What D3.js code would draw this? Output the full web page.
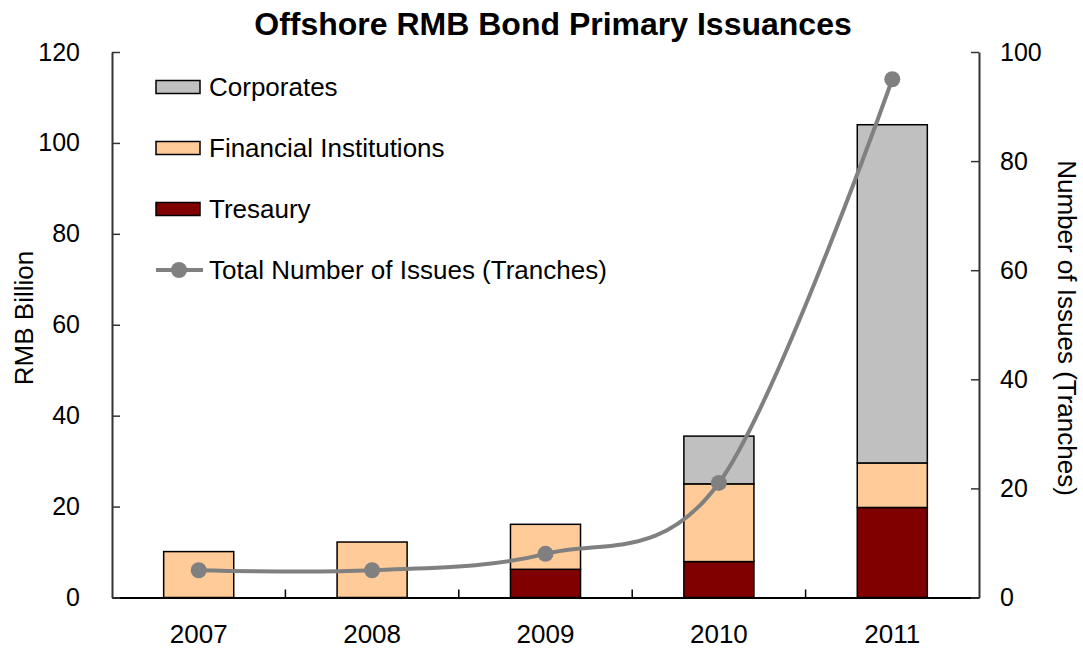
<!DOCTYPE html>
<html>
<head>
<meta charset="utf-8">
<script src="https://cdn.jsdelivr.net/npm/d3@7"></script>
<style>
  body { margin: 0; background: #fff; }
  text { font-family: "Liberation Sans", Arial, sans-serif; fill: #000; }
</style>
</head>
<body>
<div id="chart"></div>
<script>
// chart data
var years = ["2007", "2008", "2009", "2010", "2011"];
var treasury = [0, 0, 6.2, 7.9, 19.8];
var financial = [10.1, 12.2, 9.9, 17.1, 9.8];
var corporates = [0, 0, 0, 10.5, 74.4];
var issues = [5, 5, 8, 21, 95];

var leftTicks = [0, 20, 40, 60, 80, 100, 120];
var rightTicks = [0, 20, 40, 60, 80, 100];

var seriesNames = ["Tresaury", "Financial Institutions", "Corporates"];
var colors = {
  "Tresaury": "#800000",
  "Financial Institutions": "#FFCC99",
  "Corporates": "#C0C0C0"
};

var svgWidth = 1083;
var svgHeight = 649;

var margin = { top: 52, right: 104, bottom: 51.5, left: 112 };
var width = svgWidth - margin.left - margin.right;
var height = svgHeight - margin.top - margin.bottom;

var svg = d3.select("#chart")
  .append("svg")
  .attr("width", svgWidth)
  .attr("height", svgHeight);

var chartGroup = svg.append("g")
  .attr("transform", `translate(${margin.left}, ${margin.top})`);

// table for stacking
var rows = years.map(function (y, i) {
  return {
    year: y,
    "Tresaury": treasury[i],
    "Financial Institutions": financial[i],
    "Corporates": corporates[i]
  };
});

var stacked = d3.stack().keys(seriesNames)(rows);

// scales
var xBandScale = d3.scaleBand()
  .domain(years)
  .range([0, width])
  .paddingInner(0.596)
  .paddingOuter(0.298);

var yLinearScale = d3.scaleLinear()
  .domain([0, 120])
  .range([height, 0]);

var yRightScale = d3.scaleLinear()
  .domain([0, 100])
  .range([height, 0]);

// stacked bars
chartGroup.selectAll(".series")
  .data(stacked)
  .enter()
  .append("g")
  .attr("class", "series")
  .attr("fill", d => colors[d.key])
  .selectAll("rect")
  .data(d => d.filter(s => s[1] - s[0] > 0))
  .enter()
  .append("rect")
  .attr("x", d => xBandScale(d.data.year))
  .attr("y", d => yLinearScale(d[1]))
  .attr("width", xBandScale.bandwidth())
  .attr("height", d => yLinearScale(d[0]) - yLinearScale(d[1]))
  .attr("stroke", "#000")
  .attr("stroke-width", 1.5);

// axes
var step = xBandScale.step();
var bottomAxis = d3.axisBottom(xBandScale)
  .tickSize(0)
  .tickPadding(27);

var xAxisG = chartGroup.append("g")
  .attr("transform", `translate(0, ${height})`)
  .call(bottomAxis);
xAxisG.select(".domain").attr("stroke", "#000").attr("stroke-width", 2);
xAxisG.selectAll("text").style("font-size", "26px");

// category separators (inside ticks)
chartGroup.append("g")
  .selectAll("line")
  .data(years.slice(1))
  .enter()
  .append("line")
  .attr("x1", d => xBandScale(d) - step * xBandScale.paddingInner() / 2)
  .attr("x2", d => xBandScale(d) - step * xBandScale.paddingInner() / 2)
  .attr("y1", height)
  .attr("y2", height - 8)
  .attr("stroke", "#000")
  .attr("stroke-width", 1.5);

var leftAxis = d3.axisLeft(yLinearScale)
  .tickValues(leftTicks)
  .tickSizeInner(-8)
  .tickSizeOuter(0)
  .tickPadding(32);

var leftG = chartGroup.append("g").call(leftAxis);
leftG.select(".domain").attr("stroke", "#333").attr("stroke-width", 2);
leftG.selectAll(".tick line").attr("stroke", "#333").attr("stroke-width", 1.5);
leftG.selectAll("text").style("font-size", "25px");

var rightAxis = d3.axisRight(yRightScale)
  .tickValues(rightTicks)
  .tickSizeInner(-8)
  .tickSizeOuter(0)
  .tickPadding(21);

var rightG = chartGroup.append("g")
  .attr("transform", `translate(${width}, 0)`)
  .call(rightAxis);
rightG.select(".domain").attr("stroke", "#333").attr("stroke-width", 2);
rightG.selectAll(".tick line").attr("stroke", "#333").attr("stroke-width", 1.5);
rightG.selectAll("text").style("font-size", "25px");

// line for number of issues
var line = d3.line()
  .x((d, i) => xBandScale(years[i]) + xBandScale.bandwidth() / 2)
  .y(d => yRightScale(d))
  .curve(d3.curveCardinal.tension(0));

chartGroup.append("path")
  .datum(issues)
  .attr("d", line)
  .attr("fill", "none")
  .attr("stroke", "#808080")
  .attr("stroke-width", 4);

chartGroup.selectAll(".dot")
  .data(issues)
  .enter()
  .append("circle")
  .attr("class", "dot")
  .attr("cx", (d, i) => xBandScale(years[i]) + xBandScale.bandwidth() / 2)
  .attr("cy", d => yRightScale(d))
  .attr("r", 8)
  .attr("fill", "#808080");

// title
svg.append("text")
  .attr("x", 553)
  .attr("y", 35)
  .attr("text-anchor", "middle")
  .style("font-size", "32px")
  .style("font-weight", "bold")
  .text("Offshore RMB Bond Primary Issuances");

// axis titles
svg.append("text")
  .attr("transform", "translate(24, 318) rotate(-90)")
  .attr("dy", "0.35em")
  .attr("text-anchor", "middle")
  .style("font-size", "26px")
  .text("RMB Billion");

svg.append("text")
  .attr("transform", "translate(1067, 328) rotate(90)")
  .attr("dy", "0.35em")
  .attr("text-anchor", "middle")
  .style("font-size", "26px")
  .text("Number of Issues (Tranches)");

// legend
var legendItems = ["Corporates", "Financial Institutions", "Tresaury"];
var legendY = [87, 148, 209, 270];

var legend = svg.append("g");

legend.selectAll("rect")
  .data(legendItems)
  .enter()
  .append("rect")
  .attr("x", 156)
  .attr("y", (d, i) => legendY[i] - 6.5)
  .attr("width", 44)
  .attr("height", 13)
  .attr("fill", d => colors[d])
  .attr("stroke", "#000")
  .attr("stroke-width", 1.5);

legend.selectAll("text.item")
  .data(legendItems.concat(["Total Number of Issues (Tranches)"]))
  .enter()
  .append("text")
  .attr("class", "item")
  .attr("x", 209)
  .attr("y", (d, i) => legendY[i])
  .attr("dy", "0.35em")
  .style("font-size", "26px")
  .text(d => d);

legend.append("line")
  .attr("x1", 156)
  .attr("x2", 203)
  .attr("y1", legendY[3])
  .attr("y2", legendY[3])
  .attr("stroke", "#808080")
  .attr("stroke-width", 4);

legend.append("circle")
  .attr("cx", 179)
  .attr("cy", legendY[3])
  .attr("r", 8)
  .attr("fill", "#808080");
</script>
</body>
</html>
